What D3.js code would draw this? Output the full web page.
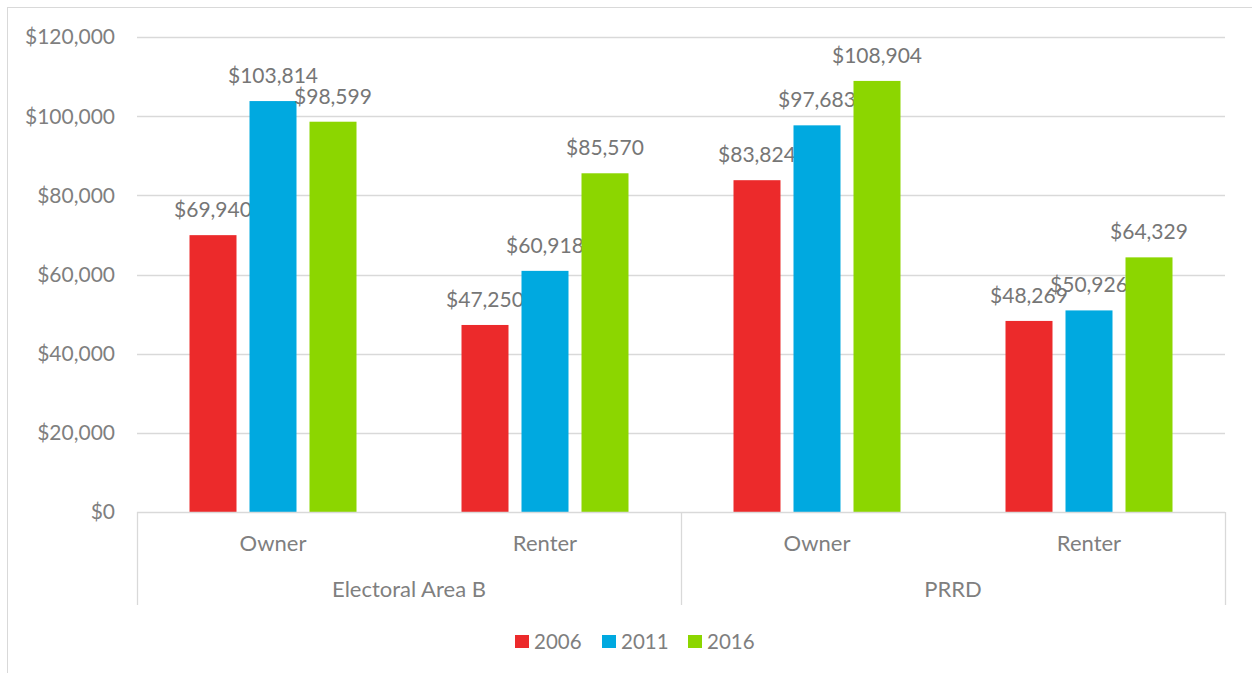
<!DOCTYPE html>
<html><head><meta charset="utf-8">
<script src="https://cdn.jsdelivr.net/npm/d3@7"></script>
<style>body{margin:0;background:#fff}svg{display:block}text{font-family:Lato,"Open Sans",sans-serif}</style>
</head><body><svg id="c" width="1252" height="673"></svg>
<script>
const groups = ["Electoral Area B", "PRRD"];
const subcats = ["Owner", "Renter"];
const seriesNames = ["2006", "2011", "2016"];
const colors = ["#ec2a2b", "#00a9e0", "#8cd600"];
const v2006 = [69940, 47250, 83824, 48269];
const v2011 = [103814, 60918, 97683, 50926];
const v2016 = [98599, 85570, 108904, 64329];
const yTicks = [0, 20000, 40000, 60000, 80000, 100000, 120000];

const series = [v2006, v2011, v2016];
const cats = [];
groups.forEach(g => subcats.forEach(s => cats.push({g, s, key: g + "|" + s})));

const svg = d3.select("#c");
const L = 137, R = 1225, T = 37, B = 512;
svg.append("rect").attr("x", 7.5).attr("y", 7.5).attr("width", 1260).attr("height", 680)
  .attr("fill", "#fff").attr("stroke", "#d9d9d9");

const y = d3.scaleLinear().domain([0, 120000]).range([B, T]);
const x = d3.scaleBand().domain(cats.map(c => c.key)).range([L, R]).padding(0);
const bw = x.bandwidth();
const barW = bw * 47 / 272, step = bw * 60 / 272;

// gridlines
svg.append("g").selectAll("line").data(yTicks.filter(t => t > 0)).join("line")
  .attr("x1", L).attr("x2", R).attr("y1", d => Math.round(y(d)) + 0.5).attr("y2", d => Math.round(y(d)) + 0.5)
  .attr("stroke", "#d9d9d9").attr("stroke-width", 1.3);

// y labels
const fmt = d3.format("$,");
svg.append("g").selectAll("text").data(yTicks).join("text")
  .attr("x", 115).attr("y", d => y(d)).attr("dy", "0.35em").attr("text-anchor", "end")
  .attr("fill", "#7f7f7f").attr("font-size", 21).text(d => fmt(d));

// bars
series.forEach((vals, si) => {
  const g = svg.append("g");
  g.selectAll("rect").data(vals).join("rect")
    .attr("x", (d, i) => x(cats[i].key) + bw / 2 + (si - 1) * step - barW / 2)
    .attr("width", barW)
    .attr("y", d => y(d)).attr("height", d => B - y(d))
    .attr("fill", colors[si]);
  g.selectAll("text").data(vals).join("text")
    .attr("x", (d, i) => x(cats[i].key) + bw / 2 + (si - 1) * step)
    .attr("y", d => y(d) - 18).attr("text-anchor", "middle")
    .attr("fill", "#767676").attr("font-size", 21).text(d => fmt(d));
});

// axis line and category separators
svg.append("line").attr("x1", L).attr("x2", R).attr("y1", B + 0.5).attr("y2", B + 0.5)
  .attr("stroke", "#d9d9d9").attr("stroke-width", 1.3);
const seps = [L, x(cats[2].key), R];
svg.append("g").selectAll("line").data(seps).join("line")
  .attr("x1", d => d + 0.5).attr("x2", d => d + 0.5).attr("y1", B).attr("y2", 605)
  .attr("stroke", "#d9d9d9").attr("stroke-width", 1.3);

svg.append("g").selectAll("text").data(cats).join("text")
  .attr("x", d => x(d.key) + bw / 2).attr("y", 551).attr("text-anchor", "middle")
  .attr("fill", "#7f7f7f").attr("font-size", 22).text(d => d.s);
svg.append("g").selectAll("text").data(groups).join("text")
  .attr("x", (d, i) => x(cats[i * 2].key) + bw).attr("y", 597).attr("text-anchor", "middle")
  .attr("fill", "#7f7f7f").attr("font-size", 22).text(d => d);

// legend
const lg = svg.append("g");
seriesNames.forEach((n, i) => {
  const lx = [515, 602, 688][i];
  lg.append("rect").attr("x", lx).attr("y", 635).attr("width", 14).attr("height", 13).attr("fill", colors[i]);
  lg.append("text").attr("x", lx + 19).attr("y", 649).attr("fill", "#7f7f7f").attr("font-size", 20.5).text(n);
});
</script></body></html>
